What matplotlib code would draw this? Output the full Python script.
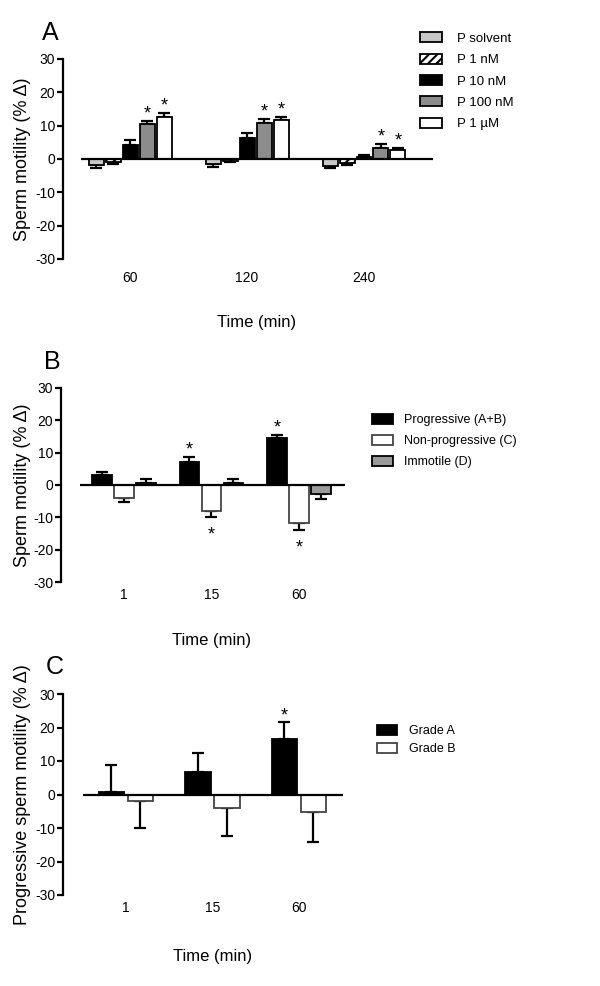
import numpy as np
import matplotlib
matplotlib.use("Agg")
import matplotlib.pyplot as plt

plt.rcParams['font.family'] = ['Liberation Sans', 'DejaVu Sans']
plt.rcParams['axes.unicode_minus'] = False
plt.rcParams['hatch.linewidth'] = 1.5

# ---- panel A: progesterone concentrations over time
timesA = ['60', '120', '240']
namesA = ['P solvent', 'P 1 nM', 'P 10 nM', 'P 100 nM', 'P 1 \u00b5M']
meansA = [[-1.8, -1.5, -2.0],
          [-1.0, -0.5, -1.3],
          [4.2, 6.2, 0.5],
          [10.4, 10.9, 3.4],
          [12.7, 11.7, 2.7]]
errsA = [[0.8, 1.0, 0.8],
         [0.4, 0.3, 0.5],
         [1.4, 1.5, 0.6],
         [1.0, 1.0, 1.0],
         [1.0, 1.0, 0.7]]
starsA = [[0, 0, 0], [0, 0, 0], [0, 0, 0], [1, 1, 1], [1, 1, 1]]

# ---- panel B: motility classes
timesB = ['1', '15', '60']
namesB = ['Progressive (A+B)', 'Non-progressive (C)', 'Immotile (D)']
meansB = [[3.2, 7.1, 14.4],
          [-4.1, -7.9, -11.6],
          [0.7, 0.7, -2.7]]
errsB = [[0.9, 1.6, 1.2],
         [1.1, 1.9, 2.2],
         [1.2, 1.2, 1.7]]
starsB = [[0, 1, 1], [0, 1, 1], [0, 0, 0]]

# ---- panel C: progressive grades
timesC = ['1', '15', '60']
namesC = ['Grade A', 'Grade B']
meansC = [[0.8, 6.7, 16.6],
          [-1.9, -4.1, -5.2]]
errsC = [[7.9, 5.7, 4.9],
         [8.0, 8.3, 8.9]]
starsC = [[0, 0, 1], [0, 0, 0]]

W, H = 600, 986
fig = plt.figure(figsize=(W / 100, H / 100), dpi=100)


def axes_px(left, top, right, bottom):
    return fig.add_axes([left / W, 1 - bottom / H, (right - left) / W, (bottom - top) / H])


def draw_panel(ax, cats, names, means, errs, stars, faces, edges, hatches,
               pitch, width, xlim, spine_off, xpad):
    n = len(names)
    groups = np.arange(len(cats))
    for i in range(n):
        xs = groups + (i - (n - 1) / 2) * pitch
        vals = np.array(means[i])
        e = np.array(errs[i])
        ax.bar(xs, vals, width, color=faces[i], edgecolor=edges[i], hatch=hatches[i],
               linewidth=1.3, label=names[i], zorder=3)
        # one-sided error bars, pointing away from zero
        lo = np.where(vals < 0, e, 0)
        hi = np.where(vals >= 0, e, 0)
        ax.errorbar(xs, vals, yerr=[lo, hi], fmt='none', ecolor='black',
                    elinewidth=1.6, capsize=4, capthick=1.6, zorder=2)
        for x, v, err, s in zip(xs, vals, e, stars[i]):
            if not s:
                continue
            if v >= 0:
                ax.annotate('*', (x, v + err), xytext=(0, 5), textcoords='offset points',
                            ha='center', va='center', fontsize=13)
            else:
                ax.annotate('*', (x, v - err), xytext=(0, -13), textcoords='offset points',
                            ha='center', va='center', fontsize=13)
    ax.axhline(0, color='black', linewidth=1.6, zorder=4)
    ax.set_xlim(*xlim)
    ax.set_ylim(-30, 30)
    ax.set_yticks([-30, -20, -10, 0, 10, 20, 30])
    ax.set_xticks(groups)
    ax.set_xticklabels(cats)
    for side in ['top', 'right', 'bottom']:
        ax.spines[side].set_visible(False)
    ax.spines['left'].set_linewidth(1.6)
    ax.spines['left'].set_position(('outward', spine_off * 0.72))
    ax.tick_params(axis='y', length=4.5, width=1.6, pad=1, labelsize=10)
    ax.tick_params(axis='x', length=0, pad=xpad, labelsize=10)
    ax.patch.set_visible(False)


# panel A
axA = axes_px(81, 59, 433, 259)
draw_panel(axA, timesA, namesA, meansA, errsA, starsA,
           faces=['#c8c8c8', 'white', 'black', '#8c8c8c', 'white'],
           edges=['black'] * 5,
           hatches=[None, '////', None, None, None],
           pitch=17 / 117, width=15 / 117, xlim=(-0.42, 2.59), spine_off=18, xpad=9)
axA.legend(loc='upper left', bbox_to_anchor=(420 / W, 1 - 32.5 / H), bbox_transform=fig.transFigure,
           frameon=False, fontsize=9.5, handlelength=1.67, handleheight=0.76,
           handletextpad=1.14, labelspacing=0.67, borderpad=0, borderaxespad=0)

# panel B
axB = axes_px(80, 388, 345, 582)
draw_panel(axB, timesB, namesB, meansB, errsB, starsB,
           faces=['black', 'white', '#9a9a9a'],
           edges=['black', '#444444', 'black'],
           hatches=[None, None, None],
           pitch=22 / 87.5, width=19.5 / 87.5, xlim=(-0.503, 2.526), spine_off=19, xpad=4)
axB.legend(loc='upper left', bbox_to_anchor=(372 / W, 1 - 414 / H), bbox_transform=fig.transFigure,
           frameon=False, fontsize=9, handlelength=1.7, handleheight=0.8,
           handletextpad=0.88, labelspacing=0.72, borderpad=0, borderaxespad=0)

# panel C
axC = axes_px(83, 694, 343, 895)
draw_panel(axC, timesC, namesC, meansC, errsC, starsC,
           faces=['black', 'white'],
           edges=['black', '#444444'],
           hatches=[None, None],
           pitch=29 / 86.5, width=25.5 / 86.5, xlim=(-0.497, 2.51), spine_off=20, xpad=4)
axC.legend(loc='upper left', bbox_to_anchor=(377 / W, 1 - 725 / H), bbox_transform=fig.transFigure,
           frameon=False, fontsize=9, handlelength=1.6, handleheight=0.8,
           handletextpad=0.96, labelspacing=0.48, borderpad=0, borderaxespad=0)

# panel letters, axis titles
for letter, x, y in [('A', 50, 33), ('B', 52, 362), ('C', 55, 667)]:
    fig.text(x / W, 1 - y / H, letter, fontsize=18, ha='center', va='center')
for label, x, y in [('Time (min)', 257, 323), ('Time (min)', 212, 641), ('Time (min)', 213, 956)]:
    fig.text(x / W, 1 - y / H, label, fontsize=12, ha='center', va='center')
fig.text(23 / W, 1 - 159 / H, 'Sperm motility (% \u0394)', fontsize=13, rotation=90, ha='center', va='center')
fig.text(23 / W, 1 - 485 / H, 'Sperm motility (% \u0394)', fontsize=13, rotation=90, ha='center', va='center')
fig.text(23 / W, 1 - 795 / H, 'Progressive sperm motility (% \u0394)', fontsize=13, rotation=90,
         ha='center', va='center')

fig.savefig('out.png', dpi=100)
